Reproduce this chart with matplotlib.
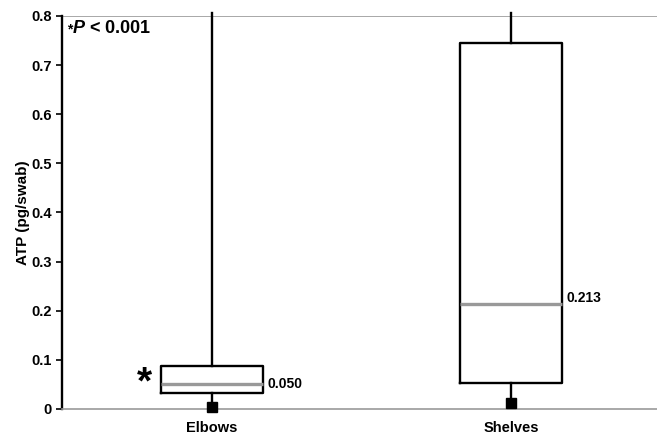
import matplotlib.pyplot as plt

plt.rcParams['font.family'] = ['Liberation Sans', 'DejaVu Sans']
plt.rcParams['font.weight'] = 'bold'
plt.rcParams['mathtext.fontset'] = 'custom'
plt.rcParams['mathtext.it'] = 'Liberation Sans:italic:bold'
plt.rcParams['mathtext.rm'] = 'Liberation Sans:bold'

# data
categories = ['Elbows', 'Shelves']
minimum = [0.005, 0.012]
q1 = [0.033, 0.053]
median = [0.050, 0.213]
q3 = [0.088, 0.745]
maximum = [0.806, 0.806]  # whiskers run past the top of the axis
median_labels = ['0.050', '0.213']
yticks = [0, 0.1, 0.2, 0.3, 0.4, 0.5, 0.6, 0.7, 0.8]
ytick_labels = ['0', '0.1', '0.2', '0.3', '0.4', '0.5', '0.6', '0.7', '0.8']

fig = plt.figure(figsize=(6.57, 4.41), dpi=100)
ax = fig.add_axes([0.0951, 0.0726, 0.910, 0.8914])

positions = [1, 2]
stats = []
for i, name in enumerate(categories):
    stats.append({'label': name, 'whislo': minimum[i], 'q1': q1[i],
                  'med': median[i], 'q3': q3[i], 'whishi': maximum[i]})

ax.bxp(stats, positions=positions, widths=0.34, showcaps=False, showfliers=False,
       boxprops=dict(color='black', linewidth=1.7),
       whiskerprops=dict(color='black', linewidth=1.7),
       medianprops=dict(color='#999999', linewidth=2.4))
for w in ax.lines:
    w.set_clip_on(False)

# minimum markers
ax.plot(positions, minimum, 's', color='black', markersize=6.5, clip_on=False, zorder=5)

# median value labels
ax.text(positions[0] + 0.185, median[0], median_labels[0], fontsize=10, fontweight='bold',
        va='center', ha='left')
ax.text(positions[1] + 0.185, median[1] + 0.013, median_labels[1], fontsize=10, fontweight='bold',
        va='center', ha='left')

# significance asterisk next to Elbows
ax.text(positions[0] - 0.2, median[0] + 0.002, '*', fontsize=28, fontweight='bold',
        va='center', ha='right')

# p-value note
ax.text(0.532, 0.765, '*', fontsize=10, fontweight='bold', va='baseline', ha='right')
ax.text(0.532, 0.765, r'$\mathit{P}$ < 0.001', fontsize=13, fontweight='bold',
        va='baseline', ha='left')

ax.set_xlim(0.5, 2.5)
ax.set_ylim(0, 0.8)
ax.set_yticks(yticks)
ax.set_yticklabels(ytick_labels, fontsize=10.5, fontweight='bold')
ax.set_xticks(positions)
ax.set_xticklabels(categories, fontsize=10.5, fontweight='bold')
ax.tick_params(axis='x', length=0, pad=9)
ax.tick_params(axis='y', length=4, width=1.2, direction='out')
ax.set_ylabel('ATP (pg/swab)', fontsize=11, fontweight='bold', labelpad=1)

ax.axhline(0.8, color='#999999', linewidth=1.2, zorder=0)
for side in ['top', 'right']:
    ax.spines[side].set_visible(False)
ax.spines['bottom'].set_color('#999999')
ax.spines['bottom'].set_linewidth(1.2)
ax.spines['left'].set_linewidth(1.7)

fig.savefig('out.png', dpi=100)
